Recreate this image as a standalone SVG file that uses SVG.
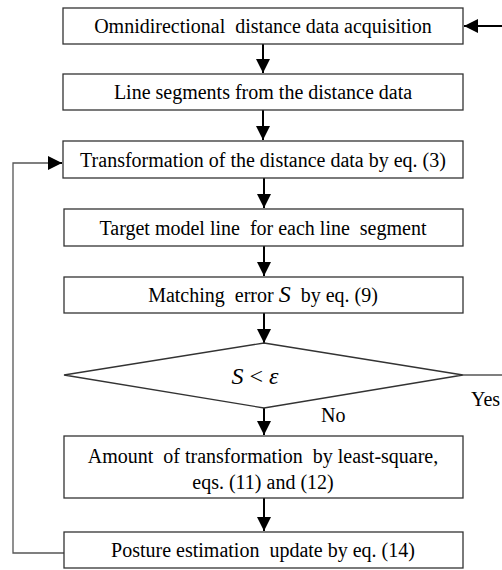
<svg xmlns="http://www.w3.org/2000/svg" width="502" height="570" viewBox="0 0 502 570">
  <defs>
    <marker id="arrow" viewBox="0 0 14 14" refX="14" refY="7" markerWidth="14" markerHeight="14" markerUnits="userSpaceOnUse" orient="auto">
      <path d="M0,0 L14,7 L0,14 Z" fill="#000"/>
    </marker>
    <style>
      .box { fill: #fff; stroke: #333; stroke-width: 1.3; }
      .line { fill: none; stroke: #000; stroke-width: 2; }
      .loop { fill: none; stroke: #555; stroke-width: 1.3; }
      .t { font-family: 'Liberation Serif', 'Times New Roman', serif; font-size: 20px; fill: #000; }
      .c { text-anchor: middle; }
      .it { font-style: italic; }
      .big { font-size: 24px; }
    </style>
  </defs>

  <g id="connectors">
    <line class="line" x1="502" y1="26" x2="464" y2="26" marker-end="url(#arrow)"/>
    <line class="line" x1="263" y1="44" x2="263" y2="73" marker-end="url(#arrow)"/>
    <line class="line" x1="263" y1="110" x2="263" y2="140" marker-end="url(#arrow)"/>
    <line class="line" x1="264" y1="178" x2="264" y2="208" marker-end="url(#arrow)"/>
    <line class="line" x1="264" y1="246" x2="264" y2="276" marker-end="url(#arrow)"/>
    <line class="line" x1="264" y1="313" x2="264" y2="343" marker-end="url(#arrow)"/>
    <line class="line" x1="264" y1="408" x2="264" y2="435" marker-end="url(#arrow)"/>
    <line class="line" x1="264" y1="498" x2="264" y2="531" marker-end="url(#arrow)"/>
    <polyline class="loop" points="463,375 502,375"/>
    <polyline class="loop" points="64,553 13,553 13,163 50,163"/>
    <line class="line" x1="48" y1="163" x2="62" y2="163" stroke-width="1.3" marker-end="url(#arrow)"/>
  </g>

  <g id="acquisition">
    <rect class="box" x="63" y="8" width="400" height="36"/>
    <text class="t c" x="263" y="33" xml:space="preserve">Omnidirectional  distance data acquisition</text>
  </g>
  <g id="segments">
    <rect class="box" x="63" y="74" width="400" height="36"/>
    <text class="t c" x="263" y="99">Line segments from the distance data</text>
  </g>
  <g id="transformation">
    <rect class="box" x="63" y="141" width="400" height="37"/>
    <text class="t c" x="263" y="167">Transformation of the distance data by eq. (3)</text>
  </g>
  <g id="target">
    <rect class="box" x="64" y="209" width="399" height="37"/>
    <text class="t c" x="263" y="235" xml:space="preserve">Target model line  for each line  segment</text>
  </g>
  <g id="matching">
    <rect class="box" x="64" y="277" width="399" height="36"/>
    <text class="t c" x="263" y="302" xml:space="preserve">Matching  error <tspan class="it big">S</tspan>  by eq. (9)</text>
  </g>
  <g id="decision">
    <polygon class="box" points="264,343 463,375 264,408 64,375"/>
    <text class="t c big" x="255" y="384"><tspan class="it">S</tspan> &lt; <tspan class="it">ε</tspan></text>
  </g>
  <g id="labels">
    <text class="t" x="471" y="406">Yes</text>
    <text class="t" x="321" y="422">No</text>
  </g>
  <g id="amount">
    <rect class="box" x="64" y="436" width="399" height="62"/>
    <text class="t c" x="263" y="463" xml:space="preserve">Amount  of transformation  by least-square,</text>
    <text class="t c" x="263" y="489">eqs. (11) and (12)</text>
  </g>
  <g id="posture">
    <rect class="box" x="64" y="532" width="399" height="36"/>
    <text class="t c" x="263" y="557" xml:space="preserve">Posture estimation  update by eq. (14)</text>
  </g>
</svg>
